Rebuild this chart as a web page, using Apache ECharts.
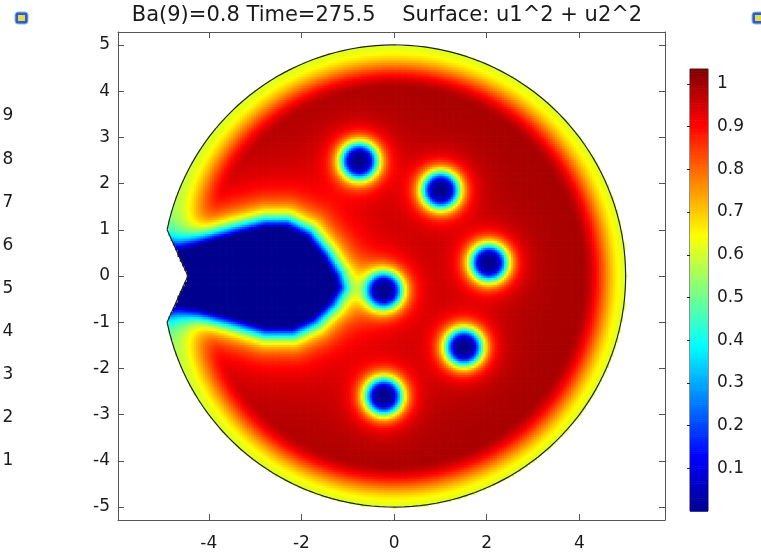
<!DOCTYPE html>
<html>
<head>
<meta charset="utf-8">
<script src="https://cdn.jsdelivr.net/npm/echarts@6/dist/echarts.min.js"></script>
<style>
  html, body { margin: 0; padding: 0; background: #fff; }
  #chart { width: 761px; height: 552px; }
</style>
</head>
<body>
<div id="chart"></div>
<script>
// ticks and labels
const xTicks = [-4, -2, 0, 2, 4];
const yTicks = [-5, -4, -3, -2, -1, 0, 1, 2, 3, 4, 5];
const barTicks = [0.1, 0.2, 0.3, 0.4, 0.5, 0.6, 0.7, 0.8, 0.9, 1];
const sideLabels = ["9", "8", "7", "6", "5", "4", "3", "2", "1"];
const titleText = "Ba(9)=0.8 Time=275.5    Surface: u1^2 + u2^2";

// domain: disc of radius 5 with a V notch on the left
const domainRadius = 5;
const notchX = [-4.9, -4.45, -4.9];
const notchY = [1.0, 0.0, -1.0];

// vortex cores (centres of the blue dots)
const vortexX = [-0.75, 1.01, 2.05, 1.51, -0.22, -0.22];
const vortexY = [2.5, 1.87, 0.3, -1.53, -2.59, -0.3];

// outline of the dark blue region entering through the notch
const wedgeX = [-5.4, -4.63, -3.99, -3.34, -2.77, -2.33, -1.9, -1.55, -1.29, -1.23, -1.4, -1.77, -2.2, -2.77, -3.49, -4.2, -4.63, -5.4];
const wedgeY = [0.56, 0.56, 0.74, 0.92, 1.06, 1.06, 0.85, 0.42, -0.01, -0.23, -0.52, -0.88, -1.09, -1.09, -0.88, -0.7, -0.63, -0.63];

// surface level at the outer wall and deep inside
const wallLevel = 0.62;
const bulkLevel = 1.0;

const jet = ["#00008f", "#0000ff", "#0080ff", "#00ffff", "#80ff80", "#ffff00", "#ff8000", "#ff0000", "#800000"];

function insideDomain(x, y) {
    if (Math.hypot(x, y) > domainRadius) return false;
    const ay = Math.abs(y);
    if (ay < notchY[0] && x < notchX[1] + (notchX[0] - notchX[1]) * ay) return false;
    return true;
}

function wedgeDistance(x, y) {
    let inside = false;
    let best = Infinity;
    const n = wedgeX.length;
    for (let i = 0, j = n - 1; i < n; j = i++) {
        const xi = wedgeX[i], yi = wedgeY[i], xj = wedgeX[j], yj = wedgeY[j];
        if ((yi > y) !== (yj > y) && x < ((xj - xi) * (y - yi)) / (yj - yi) + xi) inside = !inside;
        const dx = xj - xi, dy = yj - yi;
        let t = ((x - xi) * dx + (y - yi) * dy) / (dx * dx + dy * dy);
        t = Math.max(0, Math.min(1, t));
        best = Math.min(best, Math.hypot(x - xi - t * dx, y - yi - t * dy));
    }
    return inside ? 0 : best;
}

function level(x, y) {
    const d = domainRadius - Math.hypot(x, y);
    const s = Math.max(0, Math.min(1, d / 0.95));
    let v = wallLevel + (bulkLevel - wallLevel) * s * s * (3 - 2 * s);
    for (let i = 0; i < vortexX.length; i++) {
        const r2 = (x - vortexX[i]) ** 2 + (y - vortexY[i]) ** 2;
        v *= (r2 * r2) / (r2 * r2 + 0.025);
    }
    const w = wedgeDistance(x, y);
    const w2 = w > 0 ? (w + 0.05) ** 2 : 0;
    v *= w2 / (w2 + 0.094);
    return v;
}

const step = 0.05;
const field = [];
for (let x = -domainRadius; x <= domainRadius; x += step) {
    for (let y = -domainRadius; y <= domainRadius; y += step) {
        if (insideDomain(x, y)) field.push([x, y, level(x, y)]);
    }
}

const barMax = 1.035;
const barStep = 0.005;
const barData = [];
for (let v = 0; v < barMax; v += barStep) barData.push([0, v, v + barStep / 2]);

const outline = [];
const a0 = Math.atan2(notchY[0], notchX[0]);
for (let a = a0; a > -a0; a -= Math.PI / 90) {
    outline.push([domainRadius * Math.cos(a), domainRadius * Math.sin(a)]);
}
outline.push([notchX[2], notchY[2]], [notchX[1], notchY[1]], [notchX[0], notchY[0]]);

const chart = echarts.init(document.getElementById("chart"), null, { renderer: "canvas" });
const axisFont = { fontFamily: "DejaVu Sans", fontSize: 17, color: "#1a1a1a" };
const frameLine = { show: true, onZero: false, lineStyle: { color: "#555", width: 1 } };

chart.setOption({
    animation: false,
    backgroundColor: "#fff",
    grid: [
        { left: 118, right: 96, top: 32, bottom: 30 },
        { left: 690, width: 18, top: 69, height: 442, show: true, borderColor: "#222", borderWidth: 1 },
    ],
    xAxis: [
        {
            gridIndex: 0, type: "value", min: -5.96, max: 5.85, position: "bottom",
            axisLine: frameLine, splitLine: { show: false },
            axisTick: { inside: true, length: 6, customValues: xTicks, lineStyle: { color: "#555" } },
            axisLabel: { ...axisFont, customValues: xTicks, margin: 15 },
        },
        {
            gridIndex: 0, type: "value", min: -5.96, max: 5.85, position: "top",
            axisLine: frameLine, splitLine: { show: false },
            axisTick: { inside: true, length: 6, customValues: xTicks, lineStyle: { color: "#555" } },
            axisLabel: { show: false },
        },
        { gridIndex: 1, type: "value", min: 0, max: 1, show: false },
    ],
    yAxis: [
        {
            gridIndex: 0, type: "value", min: -5.28, max: 5.28, position: "left",
            axisLine: frameLine, splitLine: { show: false },
            axisTick: { inside: true, length: 6, customValues: yTicks, lineStyle: { color: "#555" } },
            axisLabel: { ...axisFont, customValues: yTicks, margin: 8 },
        },
        {
            gridIndex: 0, type: "value", min: -5.28, max: 5.28, position: "right",
            axisLine: frameLine, splitLine: { show: false },
            axisTick: { inside: true, length: 6, customValues: yTicks, lineStyle: { color: "#555" } },
            axisLabel: { show: false },
        },
        {
            gridIndex: 1, type: "value", min: 0, max: barMax, position: "right",
            axisLine: { show: false }, splitLine: { show: false },
            axisTick: { inside: true, length: 3, customValues: barTicks, lineStyle: { color: "#222" } },
            axisLabel: { ...axisFont, customValues: barTicks, margin: 9, formatter: (v) => String(+v.toFixed(1)) },
        },
        {
            gridIndex: 1, type: "value", min: 0, max: barMax, position: "left",
            axisLine: { show: false }, splitLine: { show: false },
            axisTick: { inside: true, length: 3, customValues: barTicks, lineStyle: { color: "#222" } },
            axisLabel: { show: false },
        },
    ],
    visualMap: {
        type: "continuous", show: false, min: 0, max: barMax, dimension: 2,
        seriesIndex: [0, 1], inRange: { color: jet },
    },
    series: [
        {
            type: "custom", xAxisIndex: 0, yAxisIndex: 0, data: field, clip: true,
            progressive: 0, progressiveThreshold: 1e7,
            encode: { x: 0, y: 1 },
            renderItem: (params, api) => {
                const p = api.coord([api.value(0), api.value(1)]);
                const s = api.size([step, step]);
                return {
                    type: "rect",
                    shape: { x: p[0] - s[0] / 2, y: p[1] - s[1] / 2, width: s[0] + 0.7, height: s[1] + 0.7 },
                    style: { fill: api.visual("color") },
                };
            },
        },
        {
            type: "custom", xAxisIndex: 2, yAxisIndex: 2, data: barData,
            encode: { x: 0, y: 1 },
            renderItem: (params, api) => {
                const lo = api.coord([0, api.value(1)]);
                const hi = api.coord([1, api.value(1) + barStep]);
                return {
                    type: "rect",
                    shape: { x: lo[0], y: hi[1], width: hi[0] - lo[0], height: lo[1] - hi[1] + 0.6 },
                    style: { fill: api.visual("color") },
                };
            },
        },
        {
            type: "line", xAxisIndex: 0, yAxisIndex: 0, data: outline, symbol: "none",
            lineStyle: { color: "#222", width: 1.2 }, z: 5, silent: true,
        },
    ],
    graphic: [
        {
            type: "text", x: 387, y: 16,
            style: { text: titleText, fontFamily: "DejaVu Sans", fontSize: 21, fill: "#1a1a1a", align: "center", verticalAlign: "middle" },
        },
        ...sideLabels.map((t, i) => ({
            type: "text", x: 8, y: 116 + i * 43.1,
            style: { text: t, fontFamily: "DejaVu Sans", fontSize: 17, fill: "#1a1a1a", align: "center", verticalAlign: "middle" },
        })),
        { type: "rect", shape: { x: 15, y: 12, width: 13, height: 12, r: 3 }, style: { fill: "#2a5fd0", stroke: "#9bb4e8", lineWidth: 1 } },
        { type: "rect", shape: { x: 18, y: 15, width: 7, height: 6 }, style: { fill: "#e8d84a" } },
        { type: "rect", shape: { x: 752, y: 12, width: 13, height: 12, r: 3 }, style: { fill: "#2a5fd0", stroke: "#9bb4e8", lineWidth: 1 } },
        { type: "rect", shape: { x: 755, y: 15, width: 7, height: 6 }, style: { fill: "#e8d84a" } },
    ],
});
</script>
</body>
</html>
